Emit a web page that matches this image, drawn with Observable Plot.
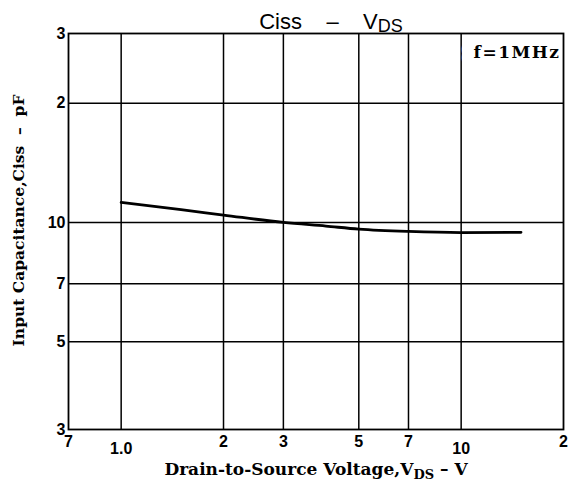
<!DOCTYPE html>
<html><head><meta charset="utf-8">
<script src="https://cdn.jsdelivr.net/npm/d3@7"></script>
<script src="https://cdn.jsdelivr.net/npm/@observablehq/plot@0.6"></script>
<style>body{margin:0;background:#fff}</style>
</head><body><div id="chart"></div>
<script>
// Data
const vds = [1, 1.5, 2, 3, 4, 5, 7, 10, 15];
const ciss = [11.24, 10.77, 10.44, 10.0, 9.79, 9.62, 9.49, 9.43, 9.44];
const xGrid = [1, 2, 3, 5, 7, 10];
const yGrid = [5, 7, 10, 20];
const xTicksUpper = [0.7, 2, 3, 5, 7, 20];
const xTicksLower = [1, 10];
const xTickLabels = {0.7: "7", 1: "1.0", 2: "2", 3: "3", 5: "5", 7: "7", 10: "10", 20: "2"};
const yTicks = [3, 5, 7, 10, 20, 30];
const yTickLabels = {3: "3", 5: "5", 7: "7", 10: "10", 20: "2", 30: "3"};
const title = "Ciss\u00a0\u00a0\u00a0\u00a0–\u00a0\u00a0\u00a0\u00a0V_DS";
const xLabel = "Drain-to-Source Voltage,V_DS – V";
const yLabel = "Input Capacitance,Ciss \u00a0–\u00a0 pF";
const note = "f=1MHz";

const rows = vds.map((v, i) => ({v, c: ciss[i]}));
const tickFont = "'Liberation Sans', Arial, sans-serif";
const serif = "'DejaVu Serif', serif";

const chart = Plot.plot({
  width: 578,
  height: 484,
  marginLeft: 68,
  marginRight: 15,
  marginTop: 33,
  marginBottom: 55,
  x: {type: "log", domain: [0.7, 20], label: null},
  y: {type: "log", domain: [3, 30], label: null},
  style: {background: "#fff", color: "#000"},
  marks: [
    Plot.ruleX(xGrid, {x: d => d, stroke: "#000", strokeWidth: 1.5}),
    Plot.ruleY(yGrid, {y: d => d, stroke: "#000", strokeWidth: 1.5}),
    Plot.text([note], {text: d => d, frameAnchor: "top-right", textAnchor: "end", dx: -3, dy: 12,
      fontFamily: serif, fontSize: 17, fontWeight: "bold", fill: "#000", stroke: "#fff", strokeWidth: 24,
      paintOrder: "stroke", strokeLinejoin: "round", className: "note"}),
    Plot.frame({stroke: "#000", strokeWidth: 1.8}),
    Plot.line(rows, {x: "v", y: "c", stroke: "#000", strokeWidth: 2.8, curve: "monotone-x"}),
    Plot.axisX({ticks: xTicksUpper, tickSize: 0, tickPadding: 6, tickFormat: d => xTickLabels[d],
      fontSize: 16, fontWeight: "bold", fontFamily: tickFont, label: null}),
    Plot.axisX({ticks: xTicksLower, tickSize: 0, tickPadding: 13, tickFormat: d => xTickLabels[d],
      fontSize: 16, fontWeight: "bold", fontFamily: tickFont, label: null}),
    Plot.axisY({ticks: yTicks, tickSize: 0, tickPadding: 3, tickFormat: d => yTickLabels[d],
      fontSize: 16, fontWeight: "bold", fontFamily: tickFont, label: null}),
    Plot.text([title], {text: d => d, frameAnchor: "top", dx: 15, dy: -20,
      fontSize: 22, fontFamily: tickFont, fill: "#000"}),
    Plot.text([xLabel], {text: d => d, frameAnchor: "bottom", dy: 45,
      fontSize: 17, fontWeight: "bold", fontFamily: serif, fill: "#000"}),
    Plot.text([yLabel], {text: d => d, frameAnchor: "left", dx: -49, dy: -11, rotate: -90,
      textAnchor: "middle", fontSize: 15.5, fontWeight: "bold", fontFamily: serif, fill: "#000"})
  ]
});

// Turn "_DS" markers into subscripts
d3.select(chart).selectAll("text").each(function () {
  const t = this.textContent;
  if (!t.includes("_DS")) return;
  const isTitle = t.startsWith("Ciss");
  const base = isTitle ? 22 : 17;
  const subSize = isTitle ? 18 : 13;
  const shift = isTitle ? 3 : 4;
  const [a, b] = t.split("_DS");
  const sel = d3.select(this);
  sel.text(null);
  sel.append("tspan").text(a);
  sel.append("tspan").attr("dy", shift).attr("font-size", subSize).text("DS");
  if (b) sel.append("tspan").attr("dy", -shift).attr("font-size", base).text(b);
});
d3.select(chart).selectAll("g.note text").style("letter-spacing", "1.5px");

document.getElementById("chart").appendChild(chart);
</script>
</body></html>
